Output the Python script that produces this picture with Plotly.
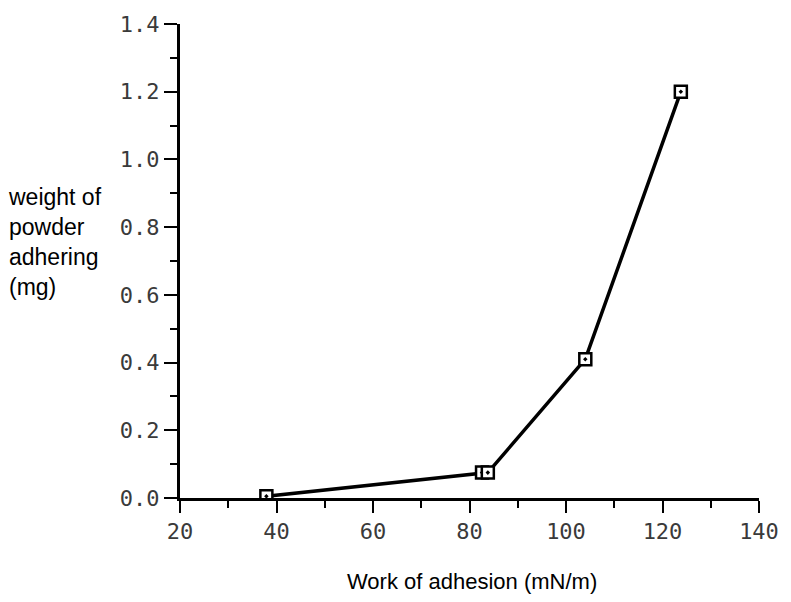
import plotly.graph_objects as go

# Work of adhesion vs. weight of powder adhering
work_of_adhesion = [37.9, 82.6, 83.8, 104.0, 123.8]   # mN/m
powder_weight = [0.005, 0.075, 0.075, 0.41, 1.20]     # mg

x_ticks = [20, 40, 60, 80, 100, 120, 140]
y_ticks = [0.0, 0.2, 0.4, 0.6, 0.8, 1.0, 1.2, 1.4]

tick_font = dict(family="DejaVu Sans Mono, monospace", size=22, color="#3a3a3a")
label_font = dict(family="Liberation Sans, Arial, sans-serif", size=23, color="black")

fig = go.Figure()
fig.add_trace(go.Scatter(
    x=work_of_adhesion,
    y=powder_weight,
    mode="lines+markers",
    line=dict(color="black", width=3.5),
    marker=dict(symbol="square-dot", size=12, color="white",
                line=dict(color="black", width=2.5)),
    showlegend=False,
))

fig.update_xaxes(
    range=[20, 140],
    tickvals=x_ticks,
    ticktext=[str(v) for v in x_ticks],
    ticks="outside", ticklen=12, tickwidth=2, tickcolor="black",
    minor=dict(dtick=10, ticks="outside", ticklen=7, tickwidth=2, tickcolor="black"),
    showline=True, linecolor="black", linewidth=3,
    showgrid=False, zeroline=False,
    tickfont=tick_font,
)
fig.update_yaxes(
    range=[0, 1.4],
    tickvals=y_ticks,
    tickformat=".1f",
    ticks="outside", ticklen=13, tickwidth=2, tickcolor="black",
    minor=dict(dtick=0.1, ticks="outside", ticklen=7, tickwidth=2, tickcolor="black"),
    showline=True, linecolor="black", linewidth=3,
    showgrid=False, zeroline=False,
    tickfont=tick_font,
)

# y-axis title, written horizontally to the left of the axis
fig.add_annotation(
    text="weight of<br>powder<br>adhering<br>(mg)",
    xref="paper", yref="paper",
    x=-0.3, y=0.54, xanchor="left", yanchor="middle",
    align="left", showarrow=False,
    font=label_font,
)
# x-axis title
fig.add_annotation(
    text="Work of adhesion (mN/m)",
    xref="paper", yref="paper",
    x=0.505, y=-0.177, xanchor="center", yanchor="middle",
    showarrow=False,
    font=dict(family="Liberation Sans, Arial, sans-serif", size=22, color="black"),
)

fig.update_layout(
    width=791, height=602,
    margin=dict(l=180, r=23, t=16, b=104),
    plot_bgcolor="white", paper_bgcolor="white",
)

fig.write_html("out.html")
